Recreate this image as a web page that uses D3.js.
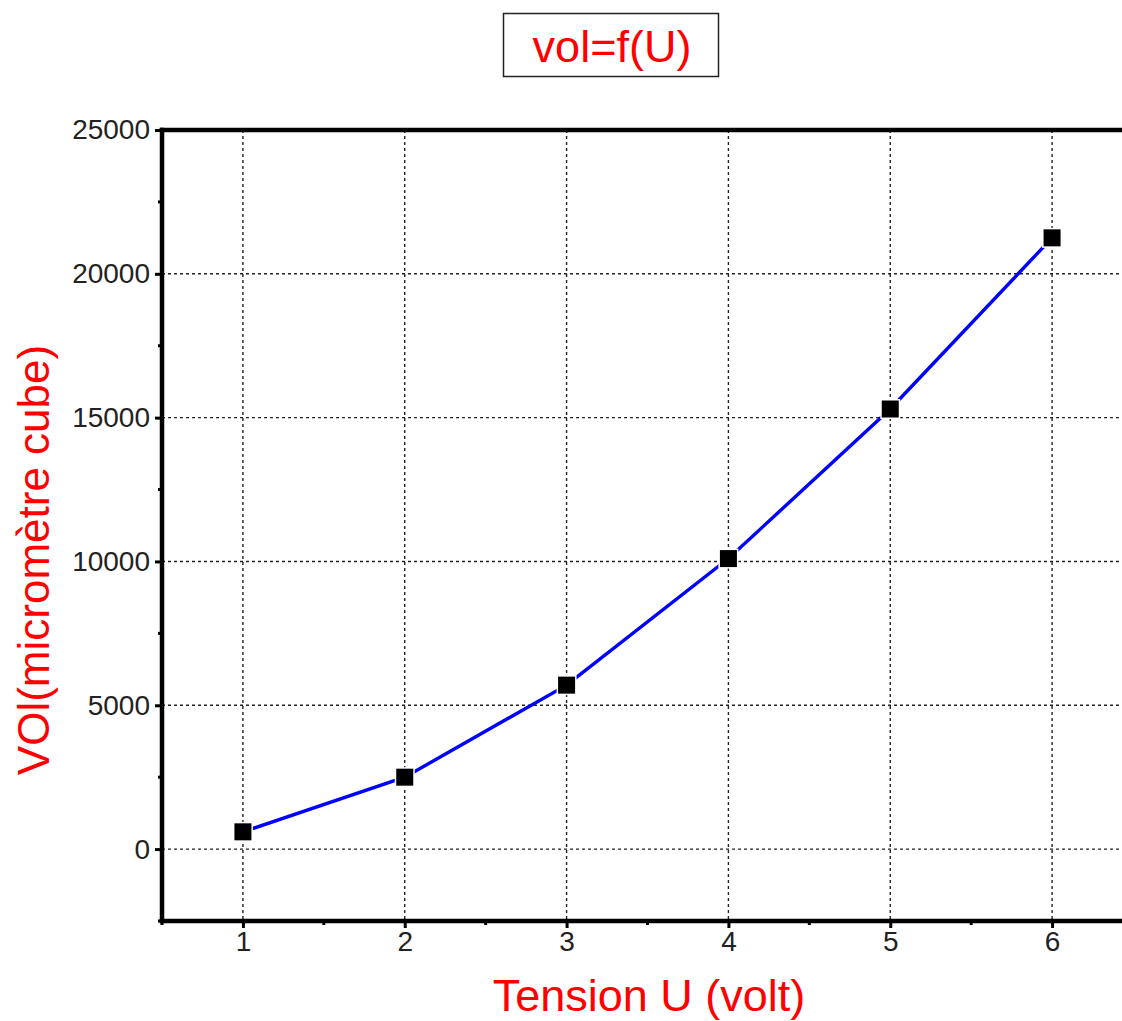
<!DOCTYPE html>
<html>
<head>
<meta charset="utf-8">
<script src="https://cdn.jsdelivr.net/npm/d3@7"></script>
<style>
  html, body { margin: 0; padding: 0; background: #fff; }
  svg { display: block; font-family: "Liberation Sans", Arial, sans-serif; }
</style>
</head>
<body>
<svg id="chart" width="1122" height="1021"></svg>
<script>
// Measured volume versus applied voltage
const tension = [1, 2, 3, 4, 5, 6];
const volume = [600, 2500, 5700, 10100, 15300, 21250];
const xTicks = [1, 2, 3, 4, 5, 6];
const xMinorTicks = [0.5, 1.5, 2.5, 3.5, 4.5, 5.5, 6.5];
const yTicks = [0, 5000, 10000, 15000, 20000, 25000];
const yMinorTicks = [-2500, 2500, 7500, 12500, 17500, 22500];

const svg = d3.select("#chart");
const frame = { left: 162, top: 130, right: 1133, bottom: 921 };

const x = d3.scaleLinear().domain([0.5, 6.5]).range([frame.left, frame.right]);
const y = d3.scaleLinear().domain([-2500, 25000]).range([frame.bottom, frame.top]);

// Title box
const titleG = svg.append("g");
titleG.append("rect")
  .attr("x", 503.5).attr("y", 13.5).attr("width", 215).attr("height", 63)
  .attr("fill", "#fff").attr("stroke", "#222").attr("stroke-width", 1.5);
titleG.append("text")
  .attr("x", 612).attr("y", 62)
  .attr("text-anchor", "middle")
  .attr("font-size", 45).attr("fill", "#ff0000")
  .text("vol=f(U)");

// Grid lines
const grid = svg.append("g")
  .attr("stroke", "#222").attr("stroke-width", 1.4)
  .attr("stroke-dasharray", "3,3");
grid.selectAll("line.v").data(xTicks).join("line")
  .attr("class", "v")
  .attr("x1", d => x(d)).attr("x2", d => x(d))
  .attr("y1", frame.top).attr("y2", frame.bottom);
grid.selectAll("line.h").data(yTicks.filter(d => d < 25000)).join("line")
  .attr("class", "h")
  .attr("x1", frame.left).attr("x2", frame.right)
  .attr("y1", d => y(d)).attr("y2", d => y(d));

// Axes
const yAxis = d3.axisLeft(y).tickValues(yTicks).tickSize(7).tickPadding(5).tickFormat(d3.format("d"));
const xAxis = d3.axisBottom(x).tickValues(xTicks).tickSize(7).tickPadding(3).tickFormat(d3.format("d"));

const gy = svg.append("g").attr("transform", `translate(${frame.left},0)`).call(yAxis);
const gx = svg.append("g").attr("transform", `translate(0,${frame.bottom})`).call(xAxis);
[gy, gx].forEach(g => {
  g.select(".domain").remove();
  g.selectAll(".tick line").attr("stroke", "#000").attr("stroke-width", 3);
  g.selectAll(".tick text")
    .attr("fill", "#222").attr("font-size", 28)
    .attr("font-family", "Liberation Sans, Arial, sans-serif");
});
gx.selectAll(".tick text").attr("dy", "0.72em");

// Minor ticks
svg.append("g").selectAll("line").data(yMinorTicks).join("line")
  .attr("x1", frame.left - 4).attr("x2", frame.left)
  .attr("y1", d => y(d)).attr("y2", d => y(d))
  .attr("stroke", "#000").attr("stroke-width", 3);
svg.append("g").selectAll("line").data(xMinorTicks).join("line")
  .attr("x1", d => x(d)).attr("x2", d => x(d))
  .attr("y1", frame.bottom).attr("y2", frame.bottom + 4)
  .attr("stroke", "#000").attr("stroke-width", 3);

// Frame (left, top, bottom, right)
const fr = svg.append("g").attr("stroke", "#000").attr("stroke-width", 4.5).attr("stroke-linecap", "square");
fr.append("line").attr("x1", frame.left).attr("x2", frame.left).attr("y1", frame.top).attr("y2", frame.bottom);
fr.append("line").attr("x1", frame.left).attr("x2", frame.right).attr("y1", frame.top).attr("y2", frame.top);
fr.append("line").attr("x1", frame.left).attr("x2", frame.right).attr("y1", frame.bottom).attr("y2", frame.bottom);
fr.append("line").attr("x1", frame.right).attr("x2", frame.right).attr("y1", frame.top).attr("y2", frame.bottom);

// Data line
const pts = tension.map((t, i) => [t, volume[i]]);
svg.append("path")
  .datum(pts)
  .attr("fill", "none").attr("stroke", "#0000ff").attr("stroke-width", 3.4)
  .attr("d", d3.line().x(d => x(d[0])).y(d => y(d[1])));

// Markers
const ms = 17;
svg.append("g").selectAll("rect").data(pts).join("rect")
  .attr("x", d => x(d[0]) - ms / 2).attr("y", d => y(d[1]) - ms / 2)
  .attr("width", ms).attr("height", ms)
  .attr("fill", "#000").attr("stroke", "#fff").attr("stroke-width", 3)
  .style("paint-order", "stroke");

// Axis titles
svg.append("text")
  .attr("x", 649).attr("y", 1011)
  .attr("text-anchor", "middle")
  .attr("font-size", 45).attr("fill", "#ff0000")
  .text("Tension U (volt)");
svg.append("text")
  .attr("transform", "translate(49,560) rotate(-90)")
  .attr("text-anchor", "middle")
  .attr("font-size", 44).attr("fill", "#ff0000")
  .text("VOl(micromètre cube)");
</script>
</body>
</html>
